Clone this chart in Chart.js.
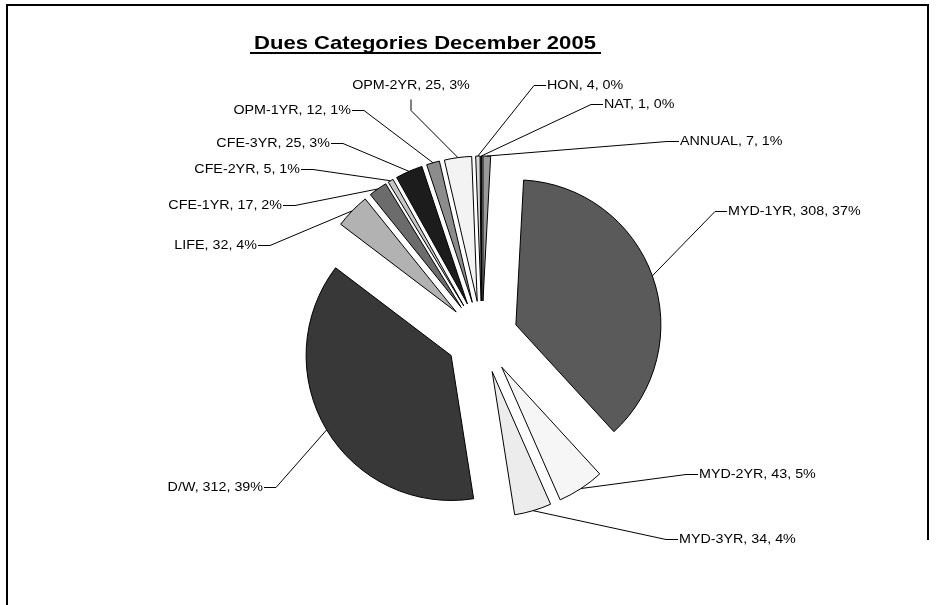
<!DOCTYPE html>
<html>
<head>
<meta charset="utf-8">
<title>Dues Categories December 2005</title>
<script src="https://cdn.jsdelivr.net/npm/chart.js@4/dist/chart.umd.min.js"></script>
<style>
  body { margin: 0; background: #fff; }
  #wrap { position: relative; width: 937px; height: 605px; }
</style>
</head>
<body>
<div id="wrap"><canvas id="dues"></canvas></div>
<script>
// data, clockwise from 12 o'clock like the original sheet
const categories = ['ANNUAL', 'MYD-1YR', 'MYD-2YR', 'MYD-3YR', 'D/W', 'LIFE', 'CFE-1YR', 'CFE-2YR', 'CFE-3YR', 'OPM-1YR', 'OPM-2YR', 'HON', 'NAT'];
const members = [7, 308, 43, 34, 312, 32, 17, 5, 25, 12, 25, 4, 1];
const shownPercents = ['1%', '37%', '5%', '4%', '39%', '4%', '2%', '1%', '3%', '1%', '3%', '0%', '0%'];

// styling / layout (kept apart from the data)
const sliceGrays = ['#9a9a9a', '#5a5a5a', '#f6f6f6', '#ececec', '#383838', '#b2b2b2', '#6c6c6c', '#c6c6c6', '#1c1c1c', '#8c8c8c', '#f3f3f3', '#d8d8d8', '#111111'];
const labelSpots = [
  [680, 141, 'left'],
  [728, 211, 'left'],
  [699, 474, 'left'],
  [679, 539, 'left'],
  [263, 487, 'right'],
  [257, 245, 'right'],
  [282, 205, 'right'],
  [300, 169, 'right'],
  [330, 143, 'right'],
  [351, 110, 'right'],
  [411, 85, 'center'],
  [547, 85, 'left'],
  [604, 104, 'left'],
];
const EXPLODE = 36;
const LABEL_FONT = '13px "Liberation Sans", Arial, sans-serif';
const LABEL_STRETCH = 1.1;
const TITLE_FONT = 'bold 19px "Liberation Sans", Arial, sans-serif';

// move every slice out from the centre along its middle angle
const explodePie = {
  id: 'explodePie',
  afterDatasetUpdate(chart, args) {
    args.meta.data.forEach((arc) => {
      const mid = (arc.startAngle + arc.endAngle) / 2;
      arc.x += Math.cos(mid) * EXPLODE;
      arc.y += Math.sin(mid) * EXPLODE;
    });
  },
};

const frameAndTitle = {
  id: 'frameAndTitle',
  beforeDraw(chart) {
    const { ctx } = chart;
    ctx.save();
    ctx.fillStyle = '#fff';
    ctx.fillRect(0, 0, chart.width, chart.height);
    ctx.strokeStyle = '#000';
    ctx.lineWidth = 2;
    ctx.beginPath();
    ctx.moveTo(7, chart.height);
    ctx.lineTo(7, 5);
    ctx.lineTo(928, 5);
    ctx.lineTo(928, 540);
    ctx.stroke();

    ctx.fillStyle = '#000';
    ctx.font = TITLE_FONT;
    ctx.textAlign = 'center';
    ctx.textBaseline = 'alphabetic';
    ctx.translate(425, 49);
    ctx.scale(1.16, 1);
    ctx.fillText('Dues Categories December 2005', 0, 0);
    ctx.restore();

    ctx.save();
    ctx.fillStyle = '#000';
    ctx.fillRect(250, 52, 351, 2);
    ctx.restore();
  },
};

const pieLabels = {
  id: 'pieLabels',
  afterDatasetsDraw(chart) {
    const { ctx } = chart;
    const arcs = chart.getDatasetMeta(0).data;
    ctx.save();
    ctx.font = LABEL_FONT;
    ctx.fillStyle = '#000';
    ctx.strokeStyle = '#000';
    ctx.lineWidth = 1;
    ctx.textBaseline = 'middle';
    arcs.forEach((arc, i) => {
      const mid = (arc.startAngle + arc.endAngle) / 2;
      const ax = arc.x + Math.cos(mid) * arc.outerRadius;
      const ay = arc.y + Math.sin(mid) * arc.outerRadius;
      const [tx, ty, align] = labelSpots[i];
      let elbow;
      let stubEnd;
      if (align === 'left') {
        elbow = [tx - 13, ty];
        stubEnd = [tx - 1, ty];
      } else if (align === 'right') {
        elbow = [tx + 13, ty];
        stubEnd = [tx + 1, ty];
      } else {
        elbow = [tx, ty + 25];
        stubEnd = [tx, ty + 14];
      }
      ctx.beginPath();
      ctx.moveTo(ax, ay);
      ctx.lineTo(elbow[0], elbow[1] + 0.5);
      ctx.lineTo(stubEnd[0], stubEnd[1] + 0.5);
      ctx.stroke();

      ctx.save();
      ctx.translate(tx, ty);
      ctx.scale(LABEL_STRETCH, 1);
      ctx.textAlign = align;
      ctx.fillText(`${categories[i]}, ${members[i]}, ${shownPercents[i]}`, 0, 0);
      ctx.restore();
    });
    ctx.restore();
  },
};

new Chart(document.getElementById('dues'), {
  type: 'pie',
  data: {
    labels: categories,
    datasets: [{
      data: members,
      backgroundColor: sliceGrays,
      borderColor: '#000',
      borderWidth: 1,
    }],
  },
  options: {
    responsive: true,
    maintainAspectRatio: false,
    animation: false,
    events: [],
    radius: 145,
    layout: { padding: { left: 40, right: 13, top: 80, bottom: 11 } },
    plugins: {
      legend: { display: false },
      title: { display: false },
      tooltip: { enabled: false },
    },
  },
  plugins: [explodePie, frameAndTitle, pieLabels],
});
</script>
</body>
</html>
